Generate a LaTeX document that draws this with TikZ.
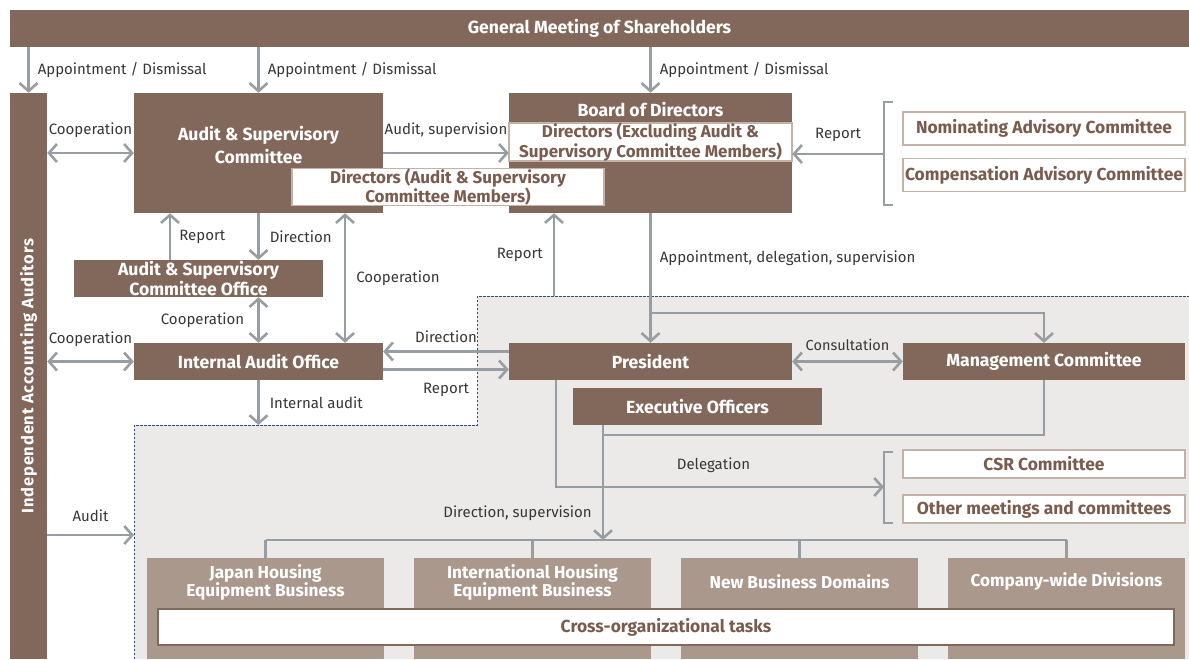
\documentclass[tikz,border=0pt]{standalone}
\usepackage{fontspec}
\setmainfont{Fira Sans}
\usepackage{tikz}
\usetikzlibrary{arrows.meta}

\definecolor{umber}{RGB}{130,103,91}
\definecolor{taupe}{RGB}{170,152,141}
\definecolor{slate}{RGB}{150,158,164}
\definecolor{mist}{RGB}{236,234,232}
\definecolor{navy}{RGB}{46,74,130}
\definecolor{cocoa}{RGB}{122,92,78}
\definecolor{sand}{RGB}{196,178,166}
\definecolor{ink}{RGB}{55,55,55}

\begin{document}
\begin{tikzpicture}[x=1pt, y=-1pt,
    body/.style={rectangle, fill=umber, text=white, inner sep=0pt, align=center, font=\bfseries\fontsize{17.6}{17}\selectfont},
    unit/.style={rectangle, fill=taupe, inner sep=0pt, minimum width=237pt, minimum height=101pt},
    unittext/.style={text=white, align=center, inner sep=0pt, font=\bfseries\fontsize{17.2}{18}\selectfont},
    panel/.style={rectangle, draw=sand, line width=1.5pt, fill=white, text=cocoa, inner sep=0pt, align=center, font=\bfseries\fontsize{17.4}{16}\selectfont},
    lbl/.style={text=ink, inner sep=0pt, font=\fontsize{15}{15}\selectfont},
    wire/.style={draw=slate, line width=2.6pt},
    arr/.style={wire, -{Straight Barb[length=8pt, width=18pt]}},
    biarr/.style={wire, {Straight Barb[length=8pt, width=18pt]}-{Straight Barb[length=8pt, width=18pt]}}]

    \useasboundingbox (0,0) rectangle (1189,659);

    % executive side
    \fill[mist] (134,659) -- (134,425) -- (477,425) -- (477,296) -- (1189,296) -- (1189,659) -- cycle;
    \draw[navy, line width=1pt, dash pattern=on 2.5pt off 1.5pt] (134,659) -- (134,425) -- (477,425) -- (477,296) -- (1189,296);

    \node[body, minimum width=1179pt, minimum height=37pt] (gm) at (599.5,28.5) {General Meeting of Shareholders};
    \node[body, minimum width=566pt, minimum height=37pt, rotate=90, font=\bfseries\fontsize{16.5}{17}\selectfont] (iaa) at (28.5,376) {\addfontfeature{LetterSpace=5}Independent Accounting Auditors};

    \node[body, minimum width=249pt, minimum height=120pt,
        label={[unittext, font=\bfseries\fontsize{17.6}{18}\selectfont, yshift=8pt]center:Audit \& Supervisory\\[4pt]Committee}] (asc) at (258.5,153) {};
    \node[body, minimum width=283pt, minimum height=120pt,
        label={[unittext, font=\bfseries\fontsize{17.6}{18}\selectfont, yshift=43pt]center:Board of Directors}] (bod) at (650.5,153) {};
    \node[panel, minimum width=283pt, minimum height=36pt, font=\bfseries\fontsize{17}{16}\selectfont] (direx) at (650.5,142) {Directors (Excluding Audit \&\\Supervisory Committee Members)};
    \node[panel, minimum width=312pt, minimum height=36pt, font=\bfseries\fontsize{17}{16}\selectfont] (dirasc) at (448,187) {Directors (Audit \& Supervisory\\Committee Members)};

    \node[panel, minimum width=282pt, minimum height=33pt] (nac) at (1044,128.5) {Nominating Advisory Committee};
    \node[panel, minimum width=282pt, minimum height=33pt] (cac) at (1044,175) {Compensation Advisory Committee};

    \node[body, minimum width=249pt, minimum height=37pt] (ascoff) at (198.5,278.5) {Audit \& Supervisory\\Committee Office};
    \node[body, minimum width=249pt, minimum height=37pt] (iao) at (258.5,361.5) {Internal Audit Office};
    \node[body, minimum width=283pt, minimum height=37pt] (pres) at (650.5,361.5) {President};
    \node[body, minimum width=282pt, minimum height=37pt] (mc) at (1044,361.5) {Management Committee};
    \node[body, minimum width=249pt, minimum height=37pt] (exo) at (697.5,406.5) {Executive Officers};

    \node[panel, minimum width=282pt, minimum height=28pt] (csr) at (1044,464) {CSR Committee};
    \node[panel, minimum width=282pt, minimum height=28pt] (other) at (1044,509) {Other meetings and committees};

    \node[unit, label={[unittext, yshift=26pt]center:Japan Housing\\Equipment Business}] (jhe) at (265.5,608.5) {};
    \node[unit, label={[unittext, yshift=26pt]center:International Housing\\Equipment Business}] (ihe) at (532.5,608.5) {};
    \node[unit, label={[unittext, yshift=27pt]center:New Business Domains}] (nbd) at (799.5,608.5) {};
    \node[unit, label={[unittext, yshift=27pt]center:Company-wide Divisions}] (cwd) at (1066.5,608.5) {};
    \node[panel, draw=umber, minimum width=1016pt, minimum height=36pt] (cross) at (666,627) {Cross-organizational tasks};

    \coordinate (advrep) at (884,154);
    \coordinate (rep) at (554,296);
    \coordinate (split) at (651,313);
    \coordinate (ds) at (603,435);
    \coordinate (bus) at (603,540);
    \coordinate (dlg) at (884,487);
    \coordinate (audin) at (134,535);

    % shareholders
    \draw[arr] (gm.south -| iaa.east) -- node[lbl, right=8pt] {Appointment / Dismissal} (iaa.east);
    \draw[arr] (gm.south -| asc.north) -- node[lbl, right=8pt] {Appointment / Dismissal} (asc.north);
    \draw[arr] (gm.south -| bod.north) -- node[lbl, right=8pt] {Appointment / Dismissal} (bod.north);

    % audit side
    \draw[biarr] (iaa.south |- asc.west) -- node[lbl, above=14pt] {Cooperation} (asc.west);
    \draw[arr] (asc.east) -- node[lbl, above=14pt] {Audit, supervision} (asc.east -| bod.west);
    \draw[wire] (893,102) -| (884,205) -- (893,205);
    \draw[arr] (advrep) -- node[lbl, above=11pt] {Report} (advrep -| bod.east);
    \draw[arr] ([xshift=-28.5pt]ascoff.north) -- node[lbl, right=8pt] {Report} ([xshift=-28.5pt]ascoff.north |- asc.south);
    \draw[arr] (asc.south) -- node[lbl, right=10pt] {Direction} (asc.south |- ascoff.north);
    \draw[biarr] ([xshift=86.5pt]asc.south) -- node[lbl, right=10pt] {Cooperation} ([xshift=86.5pt]asc.south |- iao.north);
    \draw[biarr] (ascoff.south -| iao.north) -- node[lbl, left=13pt] {Cooperation} (iao.north);
    \draw[biarr] (iaa.south |- iao.west) -- node[lbl, above=14pt] {Cooperation} (iao.west);
    \draw[arr] ([yshift=10pt]pres.west) -- node[lbl, above=8pt] {Direction} ([yshift=10pt]pres.west -| iao.east);
    \draw[arr] ([yshift=-8pt]iao.east) -- node[lbl, below=12pt] {Report} ([yshift=-8pt]iao.east -| pres.west);
    \draw[arr] (iao.south) -- node[lbl, right=10pt] {Internal audit} (iao.south |- 0,425);
    \draw[arr] (iaa.south |- audin) -- node[lbl, above=12pt] {Audit} (audin);

    % execution side
    \draw[arr] (bod.south) -- node[lbl, right=8pt, pos=0.35] {Appointment, delegation, supervision} (pres.north);
    \draw[arr] (split) -| (mc.north);
    \draw[arr] (rep) -- node[lbl, left=10pt] {Report} (rep |- bod.south);
    \draw[biarr] (pres.east) -- node[lbl, above=10pt, font=\fontsize{14.5}{14}\selectfont] {Consultation} (mc.west);
    \draw[wire] (mc.south) |- (ds);
    \draw[arr] (ds |- exo.south) -- node[lbl, left=10pt, pos=0.77] {Direction, supervision} (bus);
    \draw[arr] ([xshift=-94.5pt]pres.south) |- node[lbl, above=13pt, pos=0.74] {Delegation} (dlg);
    \draw[wire] (893,452) -| (884,523) -- (893,523);
    \draw[wire] (jhe.north |- bus) -- (cwd.north |- bus);
    \foreach \u in {jhe,ihe,nbd,cwd}
        \draw[wire] (\u.north) -- (\u.north |- bus);
\end{tikzpicture}
\end{document}
